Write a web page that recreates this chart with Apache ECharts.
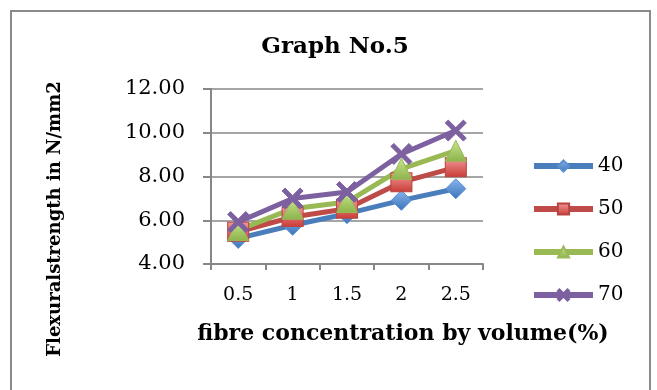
<!DOCTYPE html>
<html>
<head>
<meta charset="utf-8">
<script src="https://cdn.jsdelivr.net/npm/echarts@6/dist/echarts.min.js"></script>
<style>
  html, body { margin: 0; padding: 0; background: #fff; }
  #chart { width: 657px; height: 390px; }
</style>
</head>
<body>
<div id="chart"></div>
<script>
// fibre concentration by volume (%)
var fibre = ['0.5', '1', '1.5', '2', '2.5'];
// flexural strength, N/mm2
var s40 = [5.17, 5.77, 6.30, 6.91, 7.44];
var s50 = [5.47, 6.15, 6.53, 7.74, 8.42];
var s60 = [5.55, 6.53, 6.83, 8.35, 9.18];
var s70 = [5.92, 6.99, 7.29, 9.03, 10.10];
var yTicks = { min: 4, max: 12, step: 2 };

var serif = '"DejaVu Serif", "Liberation Serif", serif';
var xMark = 'path://M0,1.4 L1.4,0 L5,3.6 L8.6,0 L10,1.4 L6.4,5 L10,8.6 L8.6,10 L5,6.4 L1.4,10 L0,8.6 L3.6,5 Z';

function grad(top, bottom) {
    return new echarts.graphic.LinearGradient(0, 0, 0, 1, [
        { offset: 0, color: top },
        { offset: 1, color: bottom }
    ]);
}

function mkSeries(name, data, color, symbol, size, fill, border) {
    return {
        name: name,
        type: 'line',
        data: data,
        symbol: symbol,
        symbolSize: size,
        showAllSymbol: true,
        lineStyle: { color: color, width: 5 },
        itemStyle: { color: fill, borderColor: border, borderWidth: 1 },
        emphasis: { disabled: true }
    };
}

var myChart = echarts.init(document.getElementById('chart'));

var option = {
    backgroundColor: '#fff',
    animation: false,
    title: {
        text: 'Graph No.5',
        left: 330,
        top: 31,
        textAlign: 'center',
        textStyle: { fontFamily: serif, fontWeight: 'bold', fontSize: 23, color: '#000' }
    },
    legend: {
        orient: 'vertical',
        left: 526,
        top: 151,
        itemWidth: 59,
        itemHeight: 14,
        itemGap: 23,
        lineStyle: { width: 6 },
        textStyle: { fontFamily: serif, fontSize: 20, color: '#000' },
        data: ['40', '50', '60', '70']
    },
    grid: { left: 211, right: 174, top: 89, bottom: 126 },
    xAxis: {
        type: 'category',
        data: fibre,
        boundaryGap: true,
        axisLine: { lineStyle: { color: '#878787', width: 2 } },
        axisTick: { show: true, length: 6, lineStyle: { color: '#878787', width: 2 } },
        axisLabel: { fontFamily: serif, fontSize: 19, color: '#000', margin: 22 }
    },
    yAxis: {
        type: 'value',
        min: yTicks.min,
        max: yTicks.max,
        interval: yTicks.step,
        axisLine: { show: true, lineStyle: { color: '#878787', width: 2 } },
        axisTick: { show: true, length: 8, lineStyle: { color: '#878787', width: 2 } },
        axisLabel: {
            fontFamily: serif, fontSize: 21, color: '#000', margin: 26,
            formatter: function (v) { return v.toFixed(2); }
        },
        splitLine: { lineStyle: { color: '#878787', width: 1.5 } }
    },
    graphic: [
        {
            type: 'rect',
            shape: { x: 11, y: 11, width: 639, height: 400 },
            style: { fill: 'none', stroke: '#8a8a8a', lineWidth: 2 },
            silent: true
        },
        {
            type: 'text',
            x: 55, y: 219,
            rotation: Math.PI / 2,
            style: {
                text: 'Flexuralstrength in N/mm2',
                font: '600 18px ' + serif,
                fill: '#000',
                align: 'center',
                verticalAlign: 'middle'
            }
        },
        {
            type: 'text',
            x: 403, y: 334,
            style: {
                text: 'fibre concentration by volume(%)',
                font: 'bold 22px ' + serif,
                fill: '#000',
                align: 'center',
                verticalAlign: 'middle'
            }
        }
    ],
    series: [
        mkSeries('40', s40, '#4a7ebb', 'diamond', 20, grad('#8ab8ee', '#3a72b8'), '#5b8fd0'),
        mkSeries('50', s50, '#be4b48', 'rect', [21, 19], grad('#f29a98', '#c93c38'), '#b94441'),
        mkSeries('60', s60, '#98b954', 'triangle', 21, grad('#c8e690', '#8cb34a'), '#9ab958'),
        mkSeries('70', s70, '#7d60a0', xMark, 21, '#7d60a0', '#7d60a0')
    ]
};

myChart.setOption(option);

window.addEventListener('resize', function () {
    myChart.resize();
});
</script>
</body>
</html>
